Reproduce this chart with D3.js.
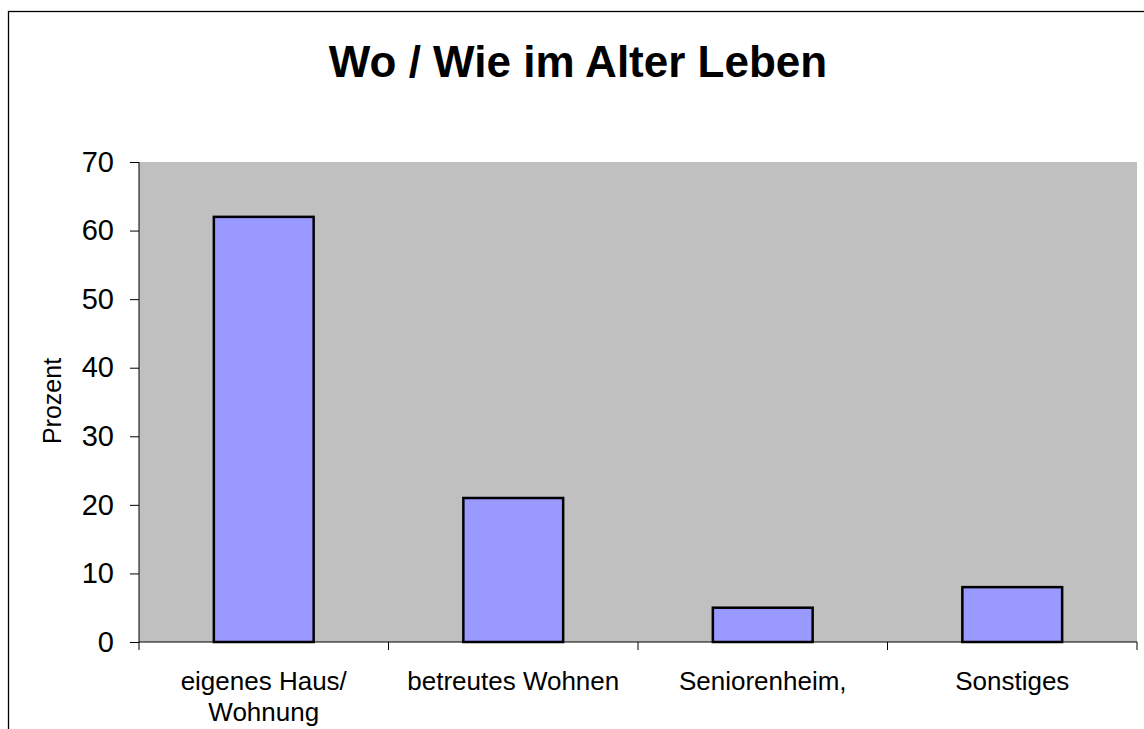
<!DOCTYPE html>
<html>
<head>
<meta charset="utf-8">
<script src="https://cdn.jsdelivr.net/npm/d3@7"></script>
<style>
    body { margin: 0; background: #fff; }
    svg { display: block; font-family: "Liberation Sans", Arial, sans-serif; }
</style>
</head>
<body>
<div id="chart"></div>
<script>
// Data
const categories = ["eigenes Haus/\nWohnung", "betreutes Wohnen", "Seniorenheim,", "Sonstiges"];
const values = [62, 21, 5, 8];
const yTicks = [0, 10, 20, 30, 40, 50, 60, 70];
const title = "Wo / Wie im Alter Leben";
const yLabel = "Prozent";

const W = 1144, H = 729;
const plot = { left: 139, right: 1137, top: 162, bottom: 642 };

const svg = d3.select('#chart')
    .append('svg')
    .attr('width', W)
    .attr('height', H);

// Outer frame (runs off the right and bottom edge)
svg.append('rect')
    .attr('x', 8.5)
    .attr('y', 11.5)
    .attr('width', 1300)
    .attr('height', 900)
    .attr('fill', 'none')
    .attr('stroke', '#000')
    .attr('stroke-width', 1.3);

// Title
svg.append('text')
    .attr('x', 578)
    .attr('y', 77)
    .attr('text-anchor', 'middle')
    .style('font-size', '44px')
    .style('font-weight', 'bold')
    .text(title);

// Scales
const x = d3.scaleBand()
    .domain(categories)
    .range([plot.left, plot.right])
    .padding(0);

const y = d3.scaleLinear()
    .domain([0, 70])
    .range([plot.bottom, plot.top]);

// Plot background
svg.append('rect')
    .attr('x', plot.left)
    .attr('y', plot.top)
    .attr('width', plot.right - plot.left)
    .attr('height', plot.bottom - plot.top)
    .attr('fill', '#c0c0c0');

// Bars
svg.append('g')
    .selectAll('rect')
    .data(categories)
    .join('rect')
    .attr('x', d => x(d) + x.bandwidth() * 0.3)
    .attr('y', (d, i) => y(values[i]))
    .attr('width', x.bandwidth() * 0.4)
    .attr('height', (d, i) => y(0) - y(values[i]))
    .attr('fill', '#9999ff')
    .attr('stroke', '#000')
    .attr('stroke-width', 2.5);

// Y axis
const yAxis = svg.append('g')
    .attr('transform', `translate(${plot.left},0)`)
    .call(d3.axisLeft(y).tickValues(yTicks).tickSize(9).tickPadding(16).tickSizeOuter(0));
yAxis.select('.domain').remove();
yAxis.selectAll('line').attr('stroke', '#000');
yAxis.selectAll('text')
    .style('font-size', '29px')
    .style('font-family', '"Liberation Sans", Arial, sans-serif')
    .attr('fill', '#000');
svg.append('line')
    .attr('x1', plot.left).attr('x2', plot.left)
    .attr('y1', plot.top).attr('y2', plot.bottom + 8)
    .attr('stroke', '#000');

// X axis line and boundary ticks
svg.append('line')
    .attr('x1', plot.left).attr('x2', plot.right)
    .attr('y1', plot.bottom).attr('y2', plot.bottom)
    .attr('stroke', '#000');
const edges = categories.map(d => x(d)).concat([x.range()[1]]);
svg.append('g')
    .selectAll('line')
    .data(edges.slice(1))
    .join('line')
    .attr('x1', d => d).attr('x2', d => d)
    .attr('y1', plot.bottom).attr('y2', plot.bottom + 8)
    .attr('stroke', '#000');

// Category labels
svg.append('g')
    .selectAll('text')
    .data(categories)
    .join('text')
    .attr('text-anchor', 'middle')
    .attr('x', d => x(d) + x.bandwidth() / 2)
    .attr('y', 690)
    .style('font-size', '26px')
    .each(function (d) {
        const lines = d.split('\n');
        const t = d3.select(this);
        lines.forEach((l, i) => {
            t.append('tspan')
                .attr('x', x(d) + x.bandwidth() / 2)
                .attr('dy', i === 0 ? 0 : 31)
                .text(l);
        });
    });

// Y axis label
svg.append('text')
    .attr('transform', 'translate(61,401) rotate(-90)')
    .attr('text-anchor', 'middle')
    .style('font-size', '25px')
    .text(yLabel);
</script>
</body>
</html>
